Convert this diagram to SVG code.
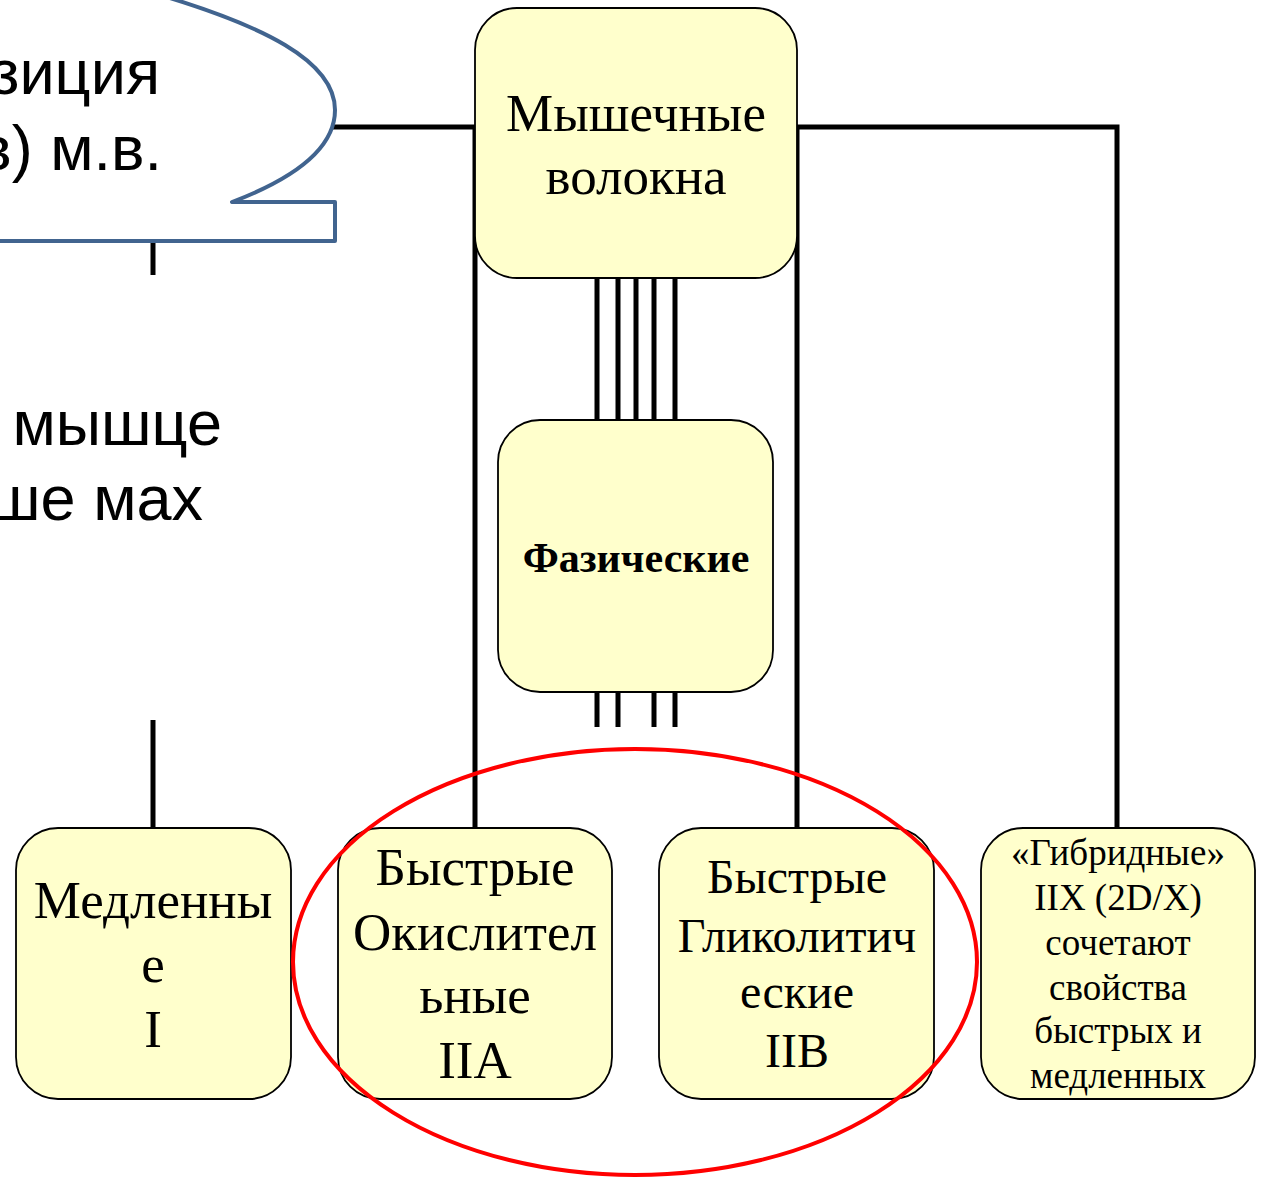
<svg xmlns="http://www.w3.org/2000/svg" width="1261" height="1177" viewBox="0 0 1261 1177">
<style>
.box{fill:#ffffcc;stroke:#000;stroke-width:1.8}
.ln{stroke:#000;stroke-width:5;fill:none}
.t{font-family:"Liberation Serif","Times New Roman",serif;fill:#000;text-anchor:middle}
.s{font-family:"Liberation Sans",Arial,sans-serif;font-size:63px;fill:#000;text-anchor:end}
</style>
<rect width="1261" height="1177" fill="#fff"/>
<g id="connectors">
<path class="ln" d="M333 127 H475 V828"/>
<path class="ln" d="M797 127 H1117 V828"/>
<path class="ln" d="M797 127 V828"/>
<path class="ln" d="M153 243 V275"/>
<path class="ln" d="M153 720 V828"/>
<path class="ln" d="M597 270 V425 M618 270 V425 M636 270 V425 M654 270 V425 M675 270 V425"/>
<path class="ln" d="M597 690 V727 M618 690 V727 M654 690 V727 M675 690 V727"/>
</g>
<g id="callout">
<path d="M160 -5 C260 25 335 60 335 110 C335 150 290 180 232 202 L335 202 L335 241 L-5 241" fill="#fff" stroke="#41648f" stroke-width="4" stroke-linejoin="round"/>
<text class="s" x="160" y="94">зиция</text>
<text class="s" x="162" y="170">в) м.в.</text>
</g>
<g id="left-text">
<text class="s" x="222" y="445">мышце</text>
<text class="s" x="203" y="520">ше мах</text>
</g>
<g id="node-main">
<rect class="box" x="475" y="8" width="322" height="270" rx="42"/>
<text class="t" x="636" y="131" font-size="53">Мышечные</text>
<text class="t" x="636" y="194" font-size="53">волокна</text>
</g>
<g id="node-phasic">
<rect class="box" x="498" y="420" width="275" height="272" rx="42"/>
<text class="t" x="636" y="572" font-size="42" font-weight="bold">Фазические</text>
</g>
<g id="node-slow">
<rect class="box" x="16" y="828" width="275" height="271" rx="42"/>
<text class="t" x="153" y="918" font-size="53">Медленны</text>
<text class="t" x="153" y="982" font-size="53">е</text>
<text class="t" x="153" y="1047" font-size="53">I</text>
</g>
<g id="node-fast-ox">
<rect class="box" x="338" y="828" width="274" height="271" rx="42"/>
<text class="t" x="475" y="885" font-size="53">Быстрые</text>
<text class="t" x="475" y="950" font-size="53">Окислител</text>
<text class="t" x="475" y="1013" font-size="53">ьные</text>
<text class="t" x="475" y="1078" font-size="53">IIA</text>
</g>
<g id="node-fast-gly">
<rect class="box" x="659" y="828" width="275" height="271" rx="42"/>
<text class="t" x="797" y="893" font-size="48">Быстрые</text>
<text class="t" x="797" y="952" font-size="48">Гликолитич</text>
<text class="t" x="797" y="1008" font-size="48">еские</text>
<text class="t" x="797" y="1067" font-size="48">IIB</text>
</g>
<g id="node-hybrid">
<rect class="box" x="981" y="828" width="274" height="271" rx="42"/>
<text class="t" x="1118" y="865" font-size="37">«Гибридные»</text>
<text class="t" x="1118" y="910" font-size="37">IIX (2D/X)</text>
<text class="t" x="1118" y="955" font-size="37">сочетают</text>
<text class="t" x="1118" y="1000" font-size="37">свойства</text>
<text class="t" x="1118" y="1043" font-size="37">быстрых и</text>
<text class="t" x="1118" y="1088" font-size="37">медленных</text>
</g>
<ellipse id="highlight" cx="635" cy="962" rx="342" ry="213" fill="none" stroke="#ff0000" stroke-width="4"/>
</svg>
